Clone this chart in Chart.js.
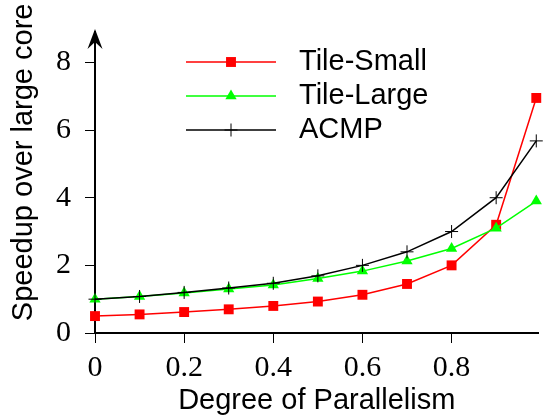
<!DOCTYPE html>
<html>
<head>
<meta charset="utf-8">
<script src="https://cdn.jsdelivr.net/npm/chart.js@4"></script>
<style>
  html, body { margin: 0; padding: 0; background: #fff; overflow: hidden; }
</style>
</head>
<body>
<canvas id="speedupChart" width="546" height="419"></canvas>
<script>
// values
const degree = [0, 0.1, 0.2, 0.3, 0.4, 0.5, 0.6, 0.7, 0.8, 0.9, 0.99];
const tileSmall = [0.5, 0.55, 0.62, 0.7, 0.8, 0.93, 1.13, 1.45, 2.0, 3.2, 6.95];
const tileLarge = [1.0, 1.08, 1.18, 1.3, 1.42, 1.61, 1.83, 2.13, 2.5, 3.1, 3.9];
const acmp = [1.0, 1.08, 1.2, 1.33, 1.47, 1.69, 2.0, 2.4, 3.0, 4.0, 5.68];
const seriesNames = ['Tile-Small', 'Tile-Large', 'ACMP'];

const toPoints = (ys) => ys.map((y, i) => ({ x: degree[i], y: y }));

const tickFont = { family: 'Liberation Serif', size: 30 };
const titleFont = { family: 'Liberation Sans', size: 29, lineHeight: 1 };

// gnuplot style key: line + marker + name
const keyPlugin = {
    id: 'key',
    afterDraw(chart) {
        const ctx = chart.ctx;
        const rowY = [62, 96, 130];
        chart.data.datasets.forEach((ds, i) => {
            const y = rowY[i];
            ctx.save();
            ctx.strokeStyle = ds.borderColor;
            ctx.lineWidth = ds.borderWidth;
            ctx.beginPath();
            ctx.moveTo(186, y);
            ctx.lineTo(276, y);
            ctx.stroke();
            ctx.fillStyle = ds.pointBackgroundColor;
            ctx.strokeStyle = ds.pointBorderColor;
            ctx.lineWidth = ds.pointBorderWidth;
            Chart.helpers.drawPoint(ctx, {
                pointStyle: ds.pointStyle,
                rotation: 0,
                radius: ds.pointRadius,
                borderWidth: ds.pointBorderWidth
            }, 231, y);
            ctx.fillStyle = '#000';
            ctx.font = '29px "Liberation Sans"';
            ctx.textAlign = 'left';
            ctx.textBaseline = 'middle';
            ctx.fillText(ds.label, 299, y);
            ctx.restore();
        });
    }
};

// arrow head on top of the y axis
const arrowPlugin = {
    id: 'arrow',
    afterDraw(chart) {
        const ctx = chart.ctx;
        const x = chart.chartArea.left;
        const top = 29;
        ctx.save();
        ctx.strokeStyle = '#000';
        ctx.lineWidth = 2;
        ctx.beginPath();
        ctx.moveTo(x, chart.chartArea.top + 2);
        ctx.lineTo(x, top + 4);
        ctx.stroke();
        ctx.fillStyle = '#000';
        ctx.beginPath();
        ctx.moveTo(x, top);
        ctx.lineTo(x + 7.5, top + 20);
        ctx.lineTo(x, top + 13);
        ctx.lineTo(x - 7.5, top + 20);
        ctx.closePath();
        ctx.fill();
        ctx.restore();
    }
};

const ctx = document.getElementById('speedupChart').getContext('2d');
const speedupChart = new Chart(ctx, {
    type: 'line',
    data: {
        datasets: [
            {
                label: seriesNames[0],
                data: toPoints(tileSmall),
                borderColor: '#ff0000',
                borderWidth: 1.5,
                pointStyle: 'rect',
                pointRadius: 7,
                pointBackgroundColor: '#ff0000',
                pointBorderColor: '#ff0000',
                pointBorderWidth: 0,
                order: 3,
                clip: false
            },
            {
                label: seriesNames[1],
                data: toPoints(tileLarge),
                borderColor: '#00ff00',
                borderWidth: 1.5,
                pointStyle: 'triangle',
                pointRadius: 6.5,
                pointBackgroundColor: '#00ff00',
                pointBorderColor: '#00ff00',
                pointBorderWidth: 0,
                order: 2,
                clip: false
            },
            {
                label: seriesNames[2],
                data: toPoints(acmp),
                borderColor: '#000000',
                borderWidth: 1.5,
                pointStyle: 'cross',
                pointRadius: 6.5,
                pointBackgroundColor: '#000000',
                pointBorderColor: '#000000',
                pointBorderWidth: 1,
                order: 1,
                clip: false
            }
        ]
    },
    options: {
        responsive: false,
        animation: false,
        layout: { padding: { top: 31, right: 0, bottom: 0, left: 0 } },
        plugins: {
            legend: { display: false },
            tooltip: { enabled: false }
        },
        scales: {
            x: {
                type: 'linear',
                min: 0,
                max: 0.995,
                afterFit: (scale) => { scale.height = 86; },
                grid: { drawOnChartArea: false, drawTicks: true, tickLength: 10, color: '#000', lineWidth: 1 },
                border: { display: true, color: '#000', width: 2 },
                ticks: {
                    stepSize: 0.2,
                    includeBounds: false,
                    maxRotation: 0,
                    padding: 7,
                    color: '#000',
                    font: tickFont,
                    callback: (v) => String(Math.round(v * 10) / 10)
                },
                title: {
                    display: true,
                    text: 'Degree of Parallelism',
                    color: '#000',
                    font: titleFont,
                    padding: { top: 0, bottom: 4 }
                }
            },
            y: {
                min: 0,
                max: 8.9,
                afterFit: (scale) => { scale.width = 95; },
                grid: { drawOnChartArea: false, drawTicks: true, tickLength: 10, color: '#000', lineWidth: 1 },
                border: { display: true, color: '#000', width: 2 },
                ticks: {
                    stepSize: 2,
                    includeBounds: false,
                    padding: 14,
                    color: '#000',
                    font: tickFont
                },
                title: {
                    display: true,
                    // leading spaces push the label up, as in the original
                    text: '     Speedup over large core',
                    color: '#000',
                    font: titleFont,
                    padding: { top: 9, bottom: 0 }
                }
            }
        }
    },
    plugins: [keyPlugin, arrowPlugin]
});
</script>
</body>
</html>
